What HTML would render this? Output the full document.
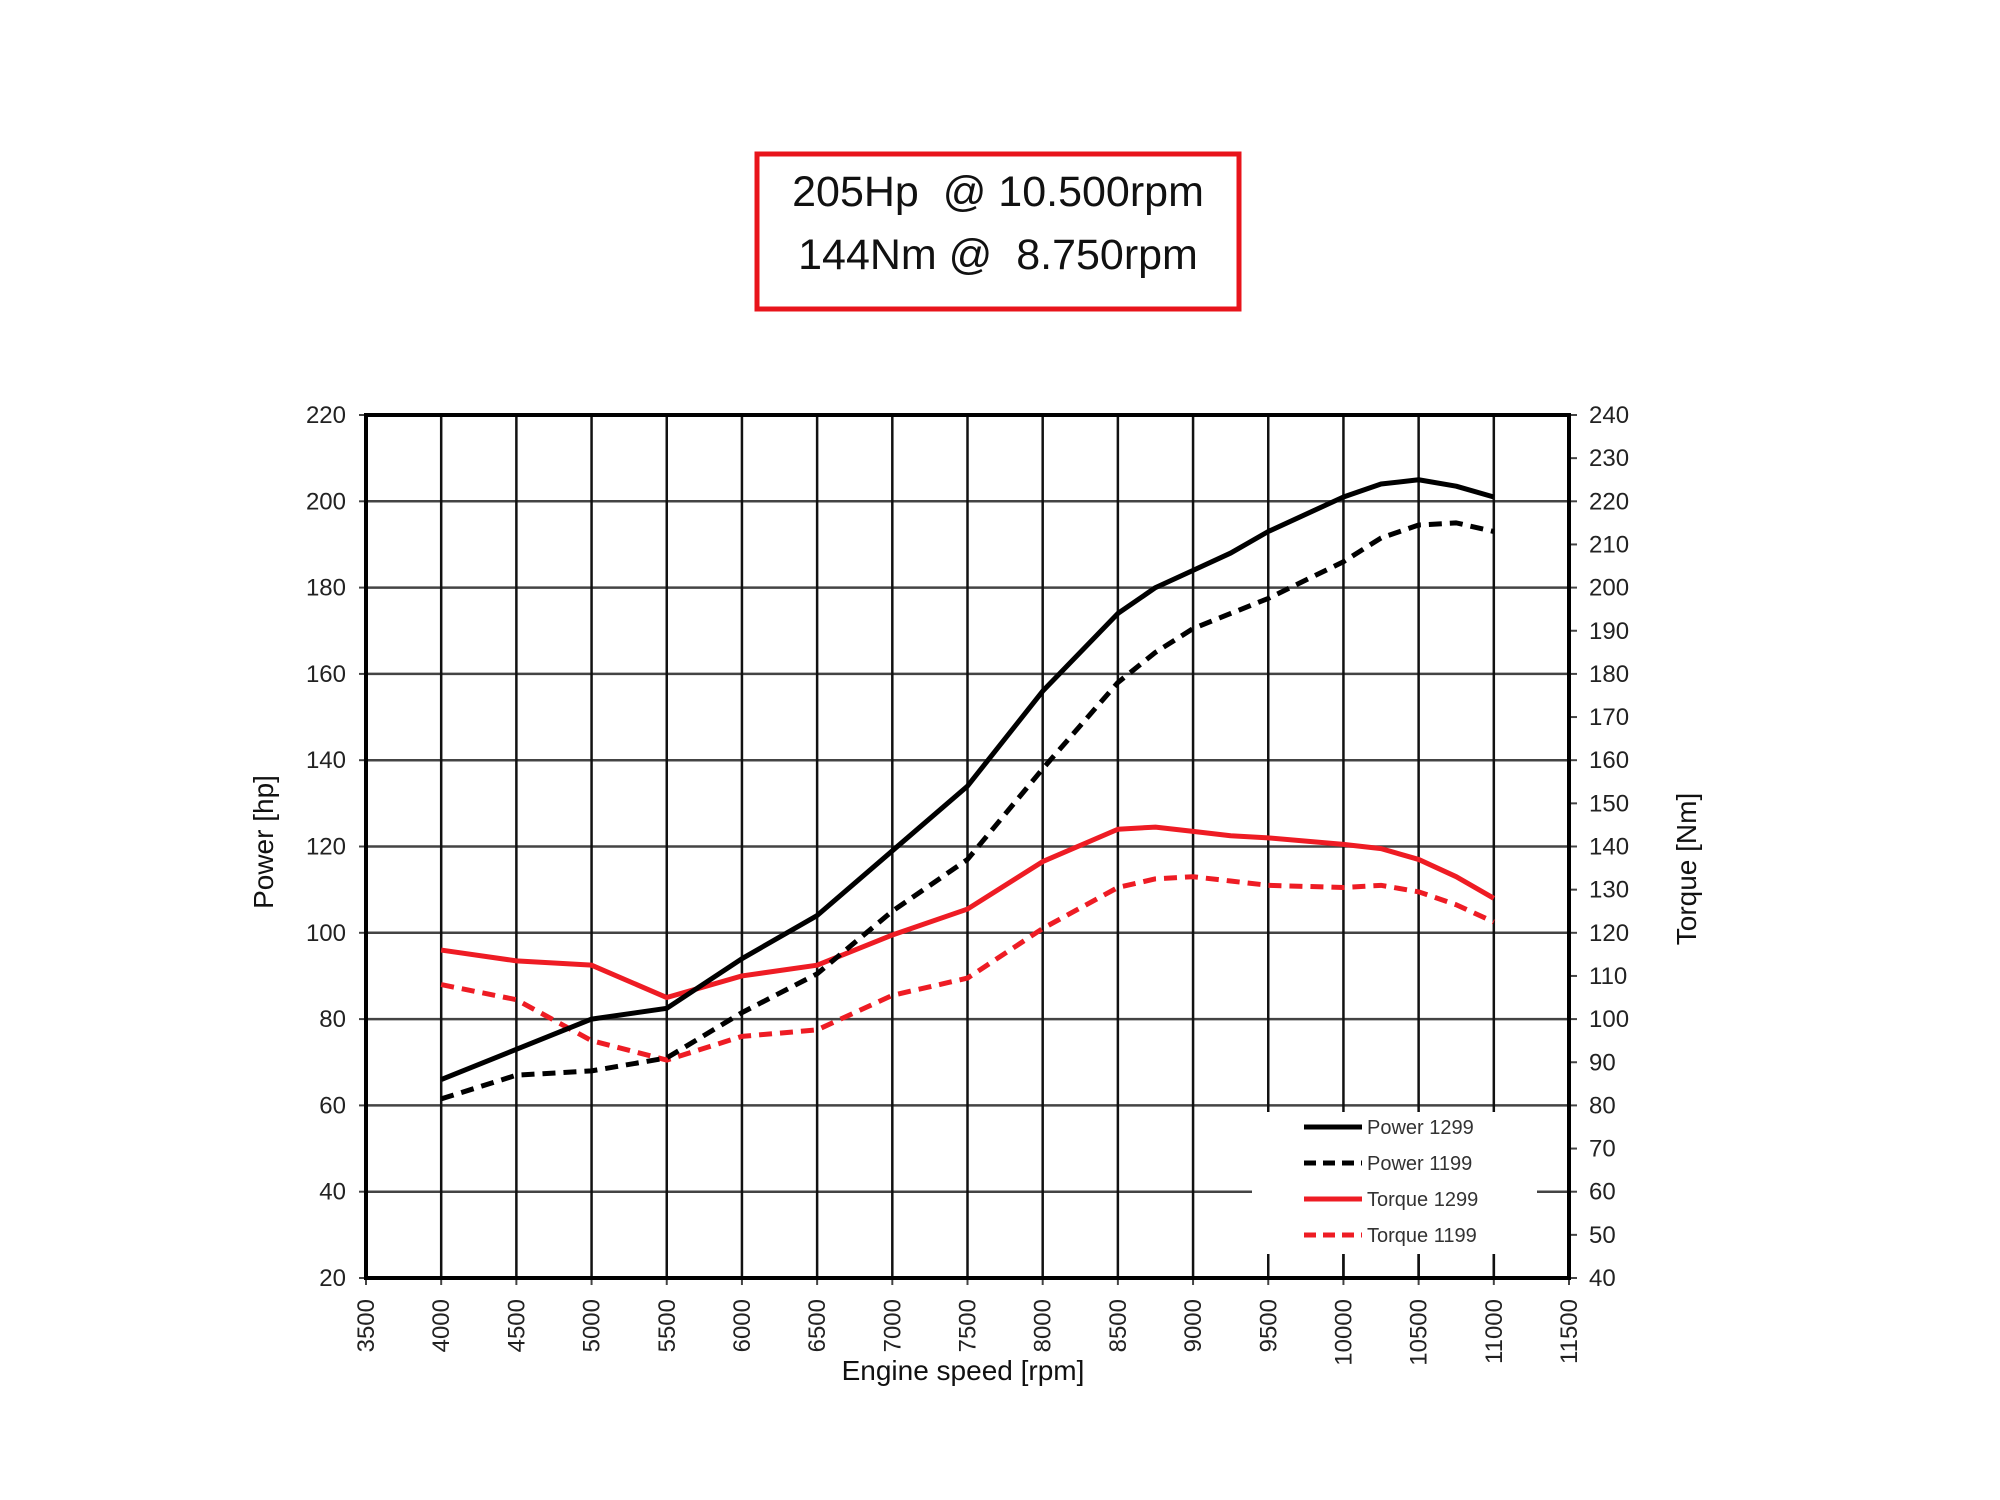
<!DOCTYPE html>
<html><head><meta charset="utf-8"><style>
html,body{margin:0;padding:0;background:#fff;}
svg{display:block;font-family:"Liberation Sans",Arial,sans-serif;}
</style></head><body>
<svg id="s" width="2000" height="1500" viewBox="0 0 2000 1500" xmlns="http://www.w3.org/2000/svg">
<rect width="2000" height="1500" fill="#fff"/>
<rect x="757" y="154" width="482" height="155" fill="#fff" stroke="#e8141b" stroke-width="5"/>
<text x="998" y="206" font-size="43" text-anchor="middle" fill="#111" xml:space="preserve">205Hp  @ 10.500rpm</text>
<text x="998" y="269" font-size="43" text-anchor="middle" fill="#111" xml:space="preserve">144Nm @  8.750rpm</text>
<g id="g"></g>
</svg>
<script>
var NS="http://www.w3.org/2000/svg",g=document.getElementById('g');
var L=366,R=1569,T=415,B=1278;
function X(r){return L+(r-3500)*(R-L)/8000;}
function Y(p){return T+(220-p)*(B-T)/200;}
function el(n,a,t){var e=document.createElementNS(NS,n);for(var k in a)e.setAttribute(k,a[k]);if(t!==undefined)e.textContent=t;g.appendChild(e);return e;}
for(var p=40;p<=200;p+=20){el('line',{x1:L,x2:R,y1:Y(p),y2:Y(p),stroke:'#444','stroke-width':2.5});}
for(var r=4000;r<=11000;r+=500){el('line',{x1:X(r),x2:X(r),y1:T,y2:B,stroke:'#111','stroke-width':2.5});}
el('rect',{x:1252,y:1112,width:285,height:142,fill:'#fff'});
for(var r=9500;r<=11000;r+=500){el('line',{x1:X(r),x2:X(r),y1:1254,y2:B,stroke:'#111','stroke-width':2.5});}
for(var p=20;p<=220;p+=20){el('line',{x1:L-7,x2:L,y1:Y(p),y2:Y(p),stroke:'#444','stroke-width':2});
 el('text',{x:346,y:Y(p)+8,'font-size':24,'text-anchor':'end',fill:'#222'},p);}
for(var t=40;t<=240;t+=10){var y=T+(240-t)*(B-T)/200;el('line',{x1:R,x2:R+8,y1:y,y2:y,stroke:'#444','stroke-width':2});
 el('text',{x:1589,y:y+8,'font-size':24,fill:'#222'},t);}
for(var r=3500;r<=11500;r+=500){var x=X(r);el('line',{x1:x,x2:x,y1:B,y2:B+7,stroke:'#444','stroke-width':2});
 el('text',{x:0,y:0,'font-size':24,'text-anchor':'end',fill:'#222',transform:'translate('+(x+8)+','+1299+') rotate(-90)'},r);}
el('rect',{x:L,y:T,width:R-L,height:B-T,fill:'none',stroke:'#000','stroke-width':4});
el('text',{x:0,y:0,'font-size':28,'text-anchor':'middle',fill:'#111',transform:'translate(273,842) rotate(-90)'},'Power [hp]');
el('text',{x:0,y:0,'font-size':28,'text-anchor':'middle',fill:'#111',transform:'translate(1696,869) rotate(-90)'},'Torque [Nm]');
el('text',{x:975,y:1397,'font-size':28,'text-anchor':'middle',fill:'#111',transform:'translate(-12,-17)'},'Engine speed [rpm]');
var rp=[4000,4500,5000,5500,6000,6500,7000,7500,8000,8500,8750,9000,9250,9500,10000,10250,10500,10750,11000];
var P1=[66,73,80,82.5,94,104,119,134,156,174,180,184,188,193,201,204,205,203.5,201];
var P2=[61.5,67,68,71,81.5,90.5,105,117,138,158,165,170.5,174,177.5,186,191.5,194.5,195,193];
var T1=[96,93.5,92.5,85,90,92.5,99.5,105.5,116.5,124,124.5,123.5,122.5,122,120.5,119.5,117,113,108];
var T2=[88,84.5,75,70.5,76,77.5,85.5,89.5,101,110.5,112.5,113,112,111,110.5,111,109.5,106.5,102.5];
function line(d,c,dash){var pts=rp.map(function(r,i){return X(r)+','+Y(d[i]);}).join(' ');
 var a={points:pts,fill:'none',stroke:c,'stroke-width':5,'stroke-linejoin':'round'};if(dash)a['stroke-dasharray']='13,8';el('polyline',a);}
line(T2,'#ee1c24',1);line(T1,'#ee1c24',0);line(P2,'#000',1);line(P1,'#000',0);
var ly=[1127,1163,1199,1235],lc=['#000','#000','#ee1c24','#ee1c24'],ld=[0,1,0,1],lt=['Power 1299','Power 1199','Torque 1299','Torque 1199'];
for(var i=0;i<4;i++){var a={x1:1304,x2:1362,y1:ly[i],y2:ly[i],stroke:lc[i],'stroke-width':5};if(ld[i])a['stroke-dasharray']='12,7';el('line',a);
 el('text',{x:1367,y:ly[i]+7,'font-size':20,fill:'#333'},lt[i]);}
</script>
</body></html>
